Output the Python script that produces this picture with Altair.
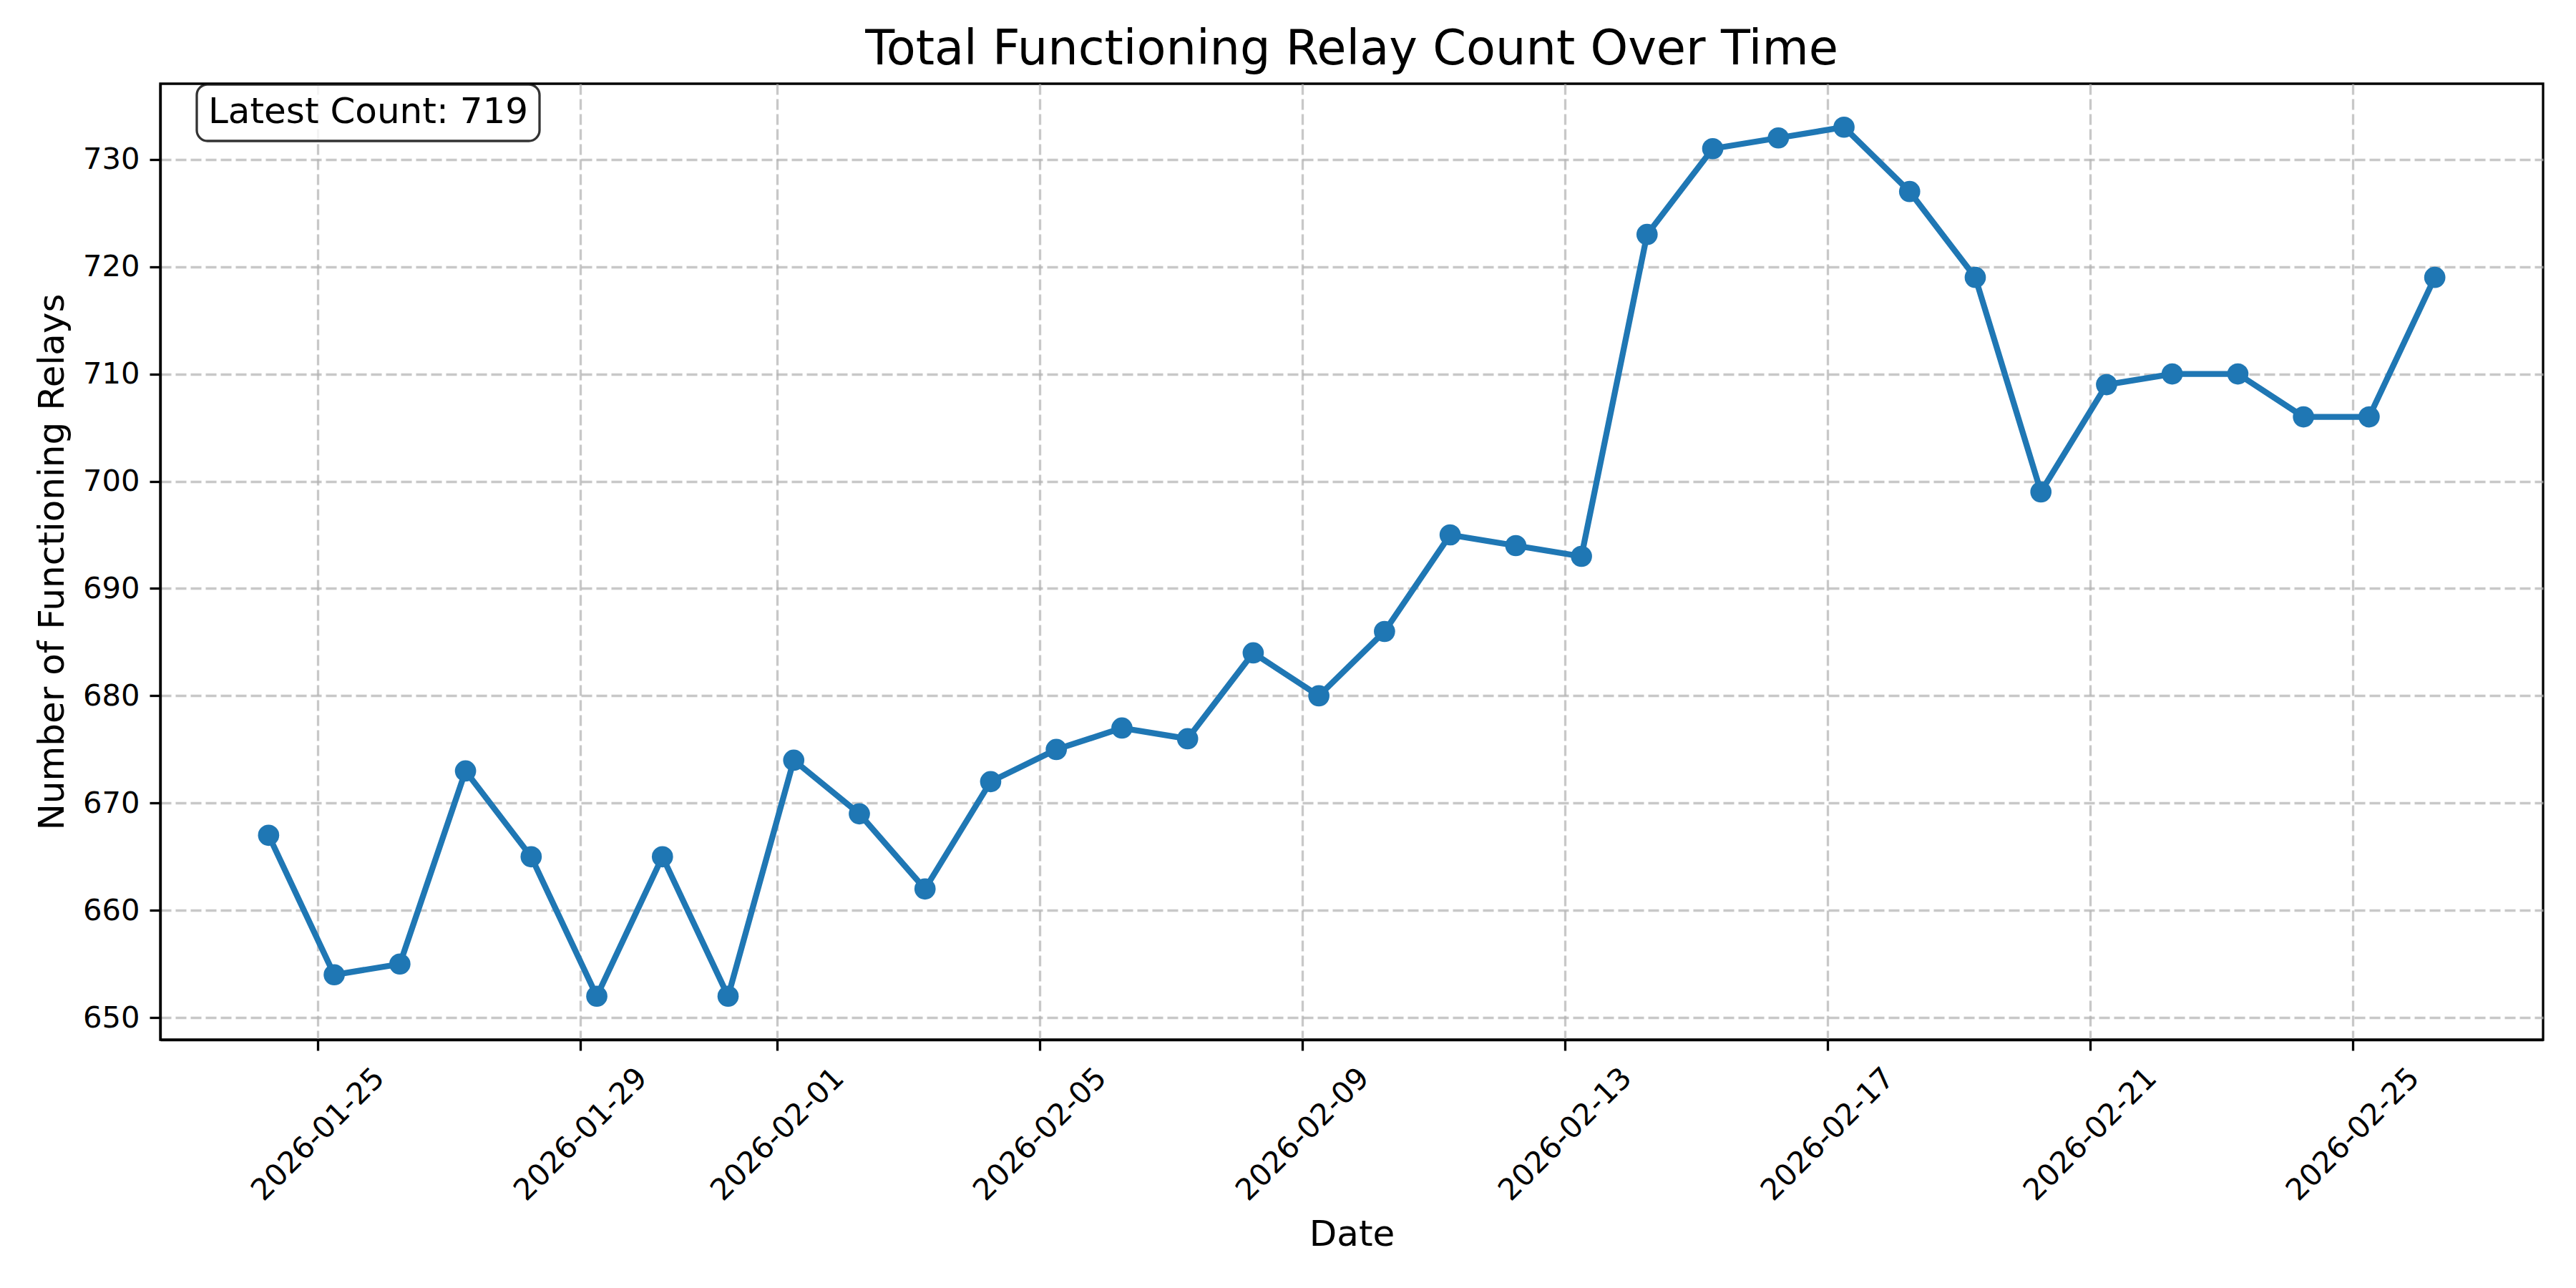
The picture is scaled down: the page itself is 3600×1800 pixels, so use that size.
import altair as alt
import pandas as pd

dates = [
    "2026-01-24T06:00:00", "2026-01-25T06:00:00", "2026-01-26T06:00:00", "2026-01-27T06:00:00",
    "2026-01-28T06:00:00", "2026-01-29T06:00:00", "2026-01-30T06:00:00", "2026-01-31T06:00:00",
    "2026-02-01T06:00:00", "2026-02-02T06:00:00", "2026-02-03T06:00:00", "2026-02-04T06:00:00",
    "2026-02-05T06:00:00", "2026-02-06T06:00:00", "2026-02-07T06:00:00", "2026-02-08T06:00:00",
    "2026-02-09T06:00:00", "2026-02-10T06:00:00", "2026-02-11T06:00:00", "2026-02-12T06:00:00",
    "2026-02-13T06:00:00", "2026-02-14T06:00:00", "2026-02-15T06:00:00", "2026-02-16T06:00:00",
    "2026-02-17T06:00:00", "2026-02-18T06:00:00", "2026-02-19T06:00:00", "2026-02-20T06:00:00",
    "2026-02-21T06:00:00", "2026-02-22T06:00:00", "2026-02-23T06:00:00", "2026-02-24T06:00:00",
    "2026-02-25T06:00:00", "2026-02-26T06:00:00",
]
counts = [
    667, 654, 655, 673, 665, 652, 665, 652, 674, 669, 662, 672, 675, 677, 676, 684, 680,
    686, 695, 694, 693, 723, 731, 732, 733, 727, 719, 699, 709, 710, 710, 706, 706, 719,
]
y_ticks = [650, 660, 670, 680, 690, 700, 710, 720, 730]
x_tick_days = [(1, 25), (1, 29), (2, 1), (2, 5), (2, 9), (2, 13), (2, 17), (2, 21), (2, 25)]
annotation = "Latest Count: 719"

df = pd.DataFrame({"Date": dates, "Count": counts})

FONT = "DejaVu Sans"
W, H = 3330, 1336
BLUE = "#1f77b4"

x_enc = alt.X(
    "Date:T",
    title="Date",
    scale=alt.Scale(
        domain=[
            alt.DateTime(year=2026, month=1, date=22, hours=14, minutes=24),
            alt.DateTime(year=2026, month=2, date=27, hours=21, minutes=36),
        ]
    ),
    axis=alt.Axis(
        values=[alt.DateTime(year=2026, month=m, date=d) for m, d in x_tick_days],
        format="%Y-%m-%d",
        labelAngle=315,
        labelAlign="center",
        labelBaseline="middle",
        labelPadding=117,
        labelOverlap=False,
        labelFlush=False,
        labelLimit=2000,
        titleX=W / 2,
        titleY=287,
        titleAlign="center",
        titleBaseline="alphabetic",
    ),
)
y_enc = alt.Y(
    "Count:Q",
    title="Number of Functioning Relays",
    scale=alt.Scale(domain=[647.95, 737.05], nice=False, zero=False),
    axis=alt.Axis(
        values=y_ticks,
        labelPadding=14,
        titleX=-136,
        titleY=H / 2,
        titleAngle=270,
        titleAlign="center",
        titleBaseline="alphabetic",
    ),
)

line = alt.Chart(df).mark_line(color=BLUE, strokeWidth=8.3).encode(x=x_enc, y=y_enc)
pts = alt.Chart(df).mark_point(
    filled=True, shape="circle", size=880, color=BLUE, opacity=1
).encode(x="Date:T", y="Count:Q")

ann_df = pd.DataFrame({"label": [annotation]})
box = alt.Chart(ann_df).mark_rect(
    fill="white", fillOpacity=0.8, stroke="#000000", strokeOpacity=0.8,
    strokeWidth=3.3, cornerRadius=15,
).encode(x=alt.value(51), x2=alt.value(530), y=alt.value(1), y2=alt.value(80))
txt = alt.Chart(ann_df).mark_text(
    font=FONT, fontSize=50, align="left", baseline="alphabetic", color="black"
).encode(x=alt.value(67), y=alt.value(55), text="label:N")

chart = (
    alt.layer(line, pts, box, txt)
    .properties(
        width=W,
        height=H,
        title=alt.TitleParams(
            "Total Functioning Relay Count Over Time",
            font=FONT, fontSize=67, fontWeight="normal", color="black",
            anchor="middle", baseline="alphabetic", offset=-41, frame="group",
        ),
        autosize=alt.AutoSizeParams(type="none"),
        padding={"left": 224, "top": 117, "right": 46, "bottom": 347},
        background="white",
    )
    .configure_view(stroke="black", strokeWidth=3.3)
    .configure_axis(
        labelFont=FONT, labelFontSize=41.7, labelColor="black",
        titleFont=FONT, titleFontSize=50, titleFontWeight="normal", titleColor="black",
        domainColor="black", domainWidth=3.3,
        tickColor="black", tickWidth=3.3, tickSize=15,
        grid=True, gridColor="#b0b0b0", gridOpacity=0.7, gridWidth=3.3, gridDash=[15, 6],
    )
)

chart.save("out.html", embed_options={"renderer": "svg", "actions": False})
